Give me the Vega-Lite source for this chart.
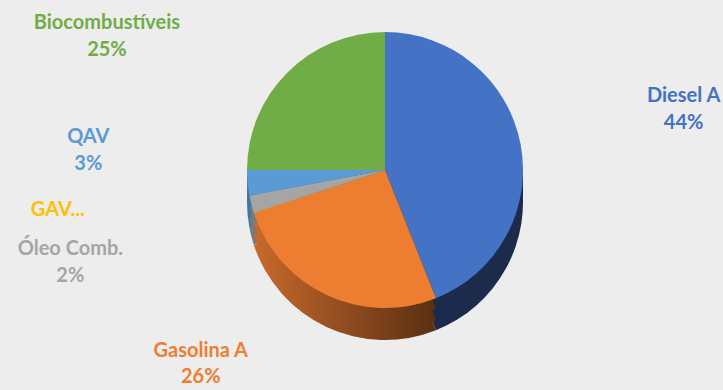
{
  "$schema": "https://vega.github.io/schema/vega-lite/v6.json",
  "width": 723,
  "height": 390,
  "autosize": {"type": "none"},
  "padding": 0,
  "background": "#EDEDED",
  "view": {"stroke": null},
  "data": {"values": [
    {"categoria": "Diesel A", "valor": 44, "ordem": 1},
    {"categoria": "Gasolina A", "valor": 26, "ordem": 2},
    {"categoria": "GAV", "valor": 0.05, "ordem": 3},
    {"categoria": "Óleo Comb.", "valor": 2, "ordem": 4},
    {"categoria": "QAV", "valor": 3, "ordem": 5},
    {"categoria": "Biocombustíveis", "valor": 25, "ordem": 6}
  ]},
  "transform": [
    {"calculate": "datum.categoria == 'GAV' ? 'GAV...' : datum.categoria + '\\n' + datum.valor + '%'", "as": "rotulo"}
  ],
  "layer": [
    {
      "mark": {"type": "arc", "x": {"expr": "width/2+23.5"}, "y": {"expr": "height/2+7"}, "outerRadius": 138},
      "encoding": {
        "theta": {"field": "valor", "type": "quantitative", "stack": true},
        "order": {"field": "ordem", "type": "quantitative"},
        "detail": {"field": "categoria"},
        "fill": {"condition": [
          {"test": "datum.categoria == 'Diesel A'", "value": "#1C2B4B"},
          {"test": "datum.categoria == 'Gasolina A'", "value": {"gradient": "linear", "x1": 0, "y1": 0, "x2": 1, "y2": 0, "stops": [{"offset": 0, "color": "#C8692C"}, {"offset": 1, "color": "#5A2F12"}]}},
          {"test": "datum.categoria == 'Óleo Comb.'", "value": "#7A7A7A"},
          {"test": "datum.categoria == 'QAV'", "value": "#3F76A8"},
          {"test": "datum.categoria == 'GAV'", "value": "#B08500"}
        ], "value": "#4E7A32"}
      }
    },
    {
      "mark": {"type": "arc", "x": {"expr": "width/2+23.5"}, "y": {"expr": "height/2-3"}, "outerRadius": 138},
      "encoding": {
        "theta": {"field": "valor", "type": "quantitative", "stack": true},
        "order": {"field": "ordem", "type": "quantitative"},
        "detail": {"field": "categoria"},
        "fill": {"condition": [
          {"test": "datum.categoria == 'Diesel A'", "value": "#1C2B4B"},
          {"test": "datum.categoria == 'Gasolina A'", "value": {"gradient": "linear", "x1": 0, "y1": 0, "x2": 1, "y2": 0, "stops": [{"offset": 0, "color": "#C8692C"}, {"offset": 1, "color": "#5A2F12"}]}},
          {"test": "datum.categoria == 'Óleo Comb.'", "value": "#7A7A7A"},
          {"test": "datum.categoria == 'QAV'", "value": "#3F76A8"},
          {"test": "datum.categoria == 'GAV'", "value": "#B08500"}
        ], "value": "#4E7A32"}
      }
    },
    {
      "mark": {"type": "arc", "x": {"expr": "width/2+23.5"}, "y": {"expr": "height/2-14"}, "outerRadius": 138},
      "encoding": {
        "theta": {"field": "valor", "type": "quantitative", "stack": true},
        "order": {"field": "ordem", "type": "quantitative"},
        "detail": {"field": "categoria"},
        "fill": {"condition": [
          {"test": "datum.categoria == 'Diesel A'", "value": "#1C2B4B"},
          {"test": "datum.categoria == 'Gasolina A'", "value": {"gradient": "linear", "x1": 0, "y1": 0, "x2": 1, "y2": 0, "stops": [{"offset": 0, "color": "#C8692C"}, {"offset": 1, "color": "#5A2F12"}]}},
          {"test": "datum.categoria == 'Óleo Comb.'", "value": "#7A7A7A"},
          {"test": "datum.categoria == 'QAV'", "value": "#3F76A8"},
          {"test": "datum.categoria == 'GAV'", "value": "#B08500"}
        ], "value": "#4E7A32"}
      }
    },
    {
      "mark": {"type": "arc", "x": {"expr": "width/2+23.5"}, "y": {"expr": "height/2-25"}, "outerRadius": 138},
      "encoding": {
        "theta": {"field": "valor", "type": "quantitative", "stack": true},
        "order": {"field": "ordem", "type": "quantitative"},
        "color": {"field": "categoria", "type": "nominal", "legend": null,
          "scale": {"domain": ["Diesel A", "Gasolina A", "GAV", "Óleo Comb.", "QAV", "Biocombustíveis"],
                    "range": ["#4472C4", "#ED7D31", "#FFC000", "#A5A5A5", "#5B9BD5", "#70AD47"]}}
      }
    },
    {
      "mark": {"type": "text", "x": {"expr": "width/2+23.5"}, "y": {"expr": "height/2-25"}, "radius": 300, "dx": 4, "dy": -18, "font": "Lato", "fontSize": 20, "fontWeight": "bold", "lineBreak": "\n", "lineHeight": 27, "align": "center", "baseline": "middle"},
      "encoding": {
        "theta": {"field": "valor", "type": "quantitative", "stack": true},
        "order": {"field": "ordem", "type": "quantitative"},
        "color": {"field": "categoria", "type": "nominal", "legend": null},
        "text": {"condition": {"test": "datum.categoria == 'Diesel A'", "field": "rotulo"}, "value": ""}
      }
    },
    {
      "mark": {"type": "text", "x": {"expr": "width/2+23.5"}, "y": {"expr": "height/2-25"}, "radius": 300, "dx": -57, "dy": -91, "font": "Lato", "fontSize": 20, "fontWeight": "bold", "lineBreak": "\n", "lineHeight": 26, "align": "center", "baseline": "middle"},
      "encoding": {
        "theta": {"field": "valor", "type": "quantitative", "stack": true},
        "order": {"field": "ordem", "type": "quantitative"},
        "color": {"field": "categoria", "type": "nominal", "legend": null},
        "text": {"condition": {"test": "datum.categoria == 'Gasolina A'", "field": "rotulo"}, "value": ""}
      }
    },
    {
      "mark": {"type": "text", "x": {"expr": "width/2+23.5"}, "y": {"expr": "height/2-25"}, "radius": 300, "dx": -42, "dy": -53, "font": "Lato", "fontSize": 20, "fontWeight": "bold", "lineBreak": "\n", "lineHeight": 27, "align": "center", "baseline": "middle"},
      "encoding": {
        "theta": {"field": "valor", "type": "quantitative", "stack": true},
        "order": {"field": "ordem", "type": "quantitative"},
        "color": {"field": "categoria", "type": "nominal", "legend": null},
        "text": {"condition": {"test": "datum.categoria == 'GAV'", "field": "rotulo"}, "value": ""}
      }
    },
    {
      "mark": {"type": "text", "x": {"expr": "width/2+23.5"}, "y": {"expr": "height/2-25"}, "radius": 300, "dx": -24, "dy": 5, "font": "Lato", "fontSize": 20, "fontWeight": "bold", "lineBreak": "\n", "lineHeight": 27, "align": "center", "baseline": "middle"},
      "encoding": {
        "theta": {"field": "valor", "type": "quantitative", "stack": true},
        "order": {"field": "ordem", "type": "quantitative"},
        "color": {"field": "categoria", "type": "nominal", "legend": null},
        "text": {"condition": {"test": "datum.categoria == 'Óleo Comb.'", "field": "rotulo"}, "value": ""}
      }
    },
    {
      "mark": {"type": "text", "x": {"expr": "width/2+23.5"}, "y": {"expr": "height/2-25"}, "radius": 300, "dx": 2, "dy": -61, "font": "Lato", "fontSize": 20, "fontWeight": "bold", "lineBreak": "\n", "lineHeight": 27, "align": "center", "baseline": "middle"},
      "encoding": {
        "theta": {"field": "valor", "type": "quantitative", "stack": true},
        "order": {"field": "ordem", "type": "quantitative"},
        "color": {"field": "categoria", "type": "nominal", "legend": null},
        "text": {"condition": {"test": "datum.categoria == 'QAV'", "field": "rotulo"}, "value": ""}
      }
    },
    {
      "mark": {"type": "text", "x": {"expr": "width/2+23.5"}, "y": {"expr": "height/2-25"}, "radius": 300, "dx": -66, "dy": 65, "font": "Lato", "fontSize": 20, "fontWeight": "bold", "lineBreak": "\n", "lineHeight": 27, "align": "center", "baseline": "middle"},
      "encoding": {
        "theta": {"field": "valor", "type": "quantitative", "stack": true},
        "order": {"field": "ordem", "type": "quantitative"},
        "color": {"field": "categoria", "type": "nominal", "legend": null},
        "text": {"condition": {"test": "datum.categoria == 'Biocombustíveis'", "field": "rotulo"}, "value": ""}
      }
    }
  ]
}
